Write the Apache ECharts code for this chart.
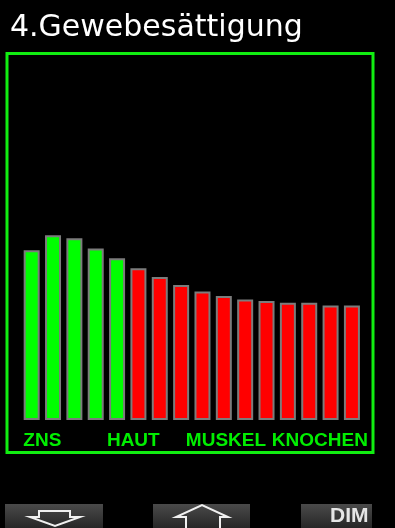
<!DOCTYPE html>
<html>
<head>
<meta charset="utf-8">
<script src="https://cdn.jsdelivr.net/npm/echarts@6/dist/echarts.min.js"></script>
<style>
html,body{margin:0;padding:0;background:#000;}
#chart{width:395px;height:528px;}
</style>
</head>
<body>
<div id="chart"></div>
<script>
// ---- data ----
const titleText = '4.Gewebesättigung';
const compartments = ['1','2','3','4','5','6','7','8','9','10','11','12','13','14','15','16'];
const saturation = [56.6, 61.6, 60.6, 57.2, 53.9, 50.6, 47.7, 45.0, 42.8, 41.3, 40.2, 39.7, 39.1, 39.1, 38.2, 38.2];
const compartmentState = ['on','on','on','on','on','off','off','off','off','off','off','off','off','off','off','off'];
const tissueGroups = ['ZNS', 'HAUT', 'MUSKEL', 'KNOCHEN'];
const tissueGroupPos = [1, 5.26, 9.6, 14];
const buttonLabels = ['', '', 'DIM'];

// ---- styles ----
const stateColors = { on: '#00ff00', off: '#ff0000' };
const chart = echarts.init(document.getElementById('chart'), null, { renderer: 'canvas' });

const btnFill = new echarts.graphic.LinearGradient(0, 0, 0, 1, [
  { offset: 0, color: '#4a4a4a' }, { offset: 1, color: '#262626' }
]);

const option = {
  backgroundColor: '#000000',
  animation: false,
  title: {
    text: titleText,
    left: 10,
    top: 13,
    padding: 0,
    textStyle: { color: '#ffffff', fontFamily: 'DejaVu Sans', fontWeight: 'normal', fontSize: 30 }
  },
  grid: { left: 21, right: 32.4, top: 120, bottom: 108, containLabel: false },
  xAxis: [
    {
      type: 'category', data: compartments,
      axisLine: { show: false }, axisTick: { show: false }, axisLabel: { show: false }, splitLine: { show: false }
    },
    {
      type: 'value', min: 0, max: compartments.length, position: 'bottom',
      axisLine: { show: false }, axisTick: { show: false }, splitLine: { show: false },
      axisLabel: {
        customValues: tissueGroupPos,
        margin: 11,
        color: '#00ee00',
        fontFamily: 'Liberation Sans',
        fontWeight: 'bold',
        fontSize: 19,
        formatter: function (v) {
          let best = 0;
          tissueGroupPos.forEach(function (p, i) { if (Math.abs(p - v) < Math.abs(tissueGroupPos[best] - v)) best = i; });
          return tissueGroups[best];
        }
      }
    }
  ],
  yAxis: { type: 'value', min: 0, max: 100, show: false },
  series: [{
    type: 'bar',
    xAxisIndex: 0,
    data: saturation,
    barWidth: 16,
    itemStyle: {
      color: function (p) { return stateColors[compartmentState[p.dataIndex]]; },
      borderColor: '#7c7c7c',
      borderWidth: 2
    }
  }],
  graphic: [
    { type: 'rect', shape: { x: 7, y: 53.5, width: 366, height: 399 }, style: { fill: 'none', stroke: '#11ee11', lineWidth: 3 }, silent: true },
    { type: 'rect', shape: { x: 5, y: 504, width: 98, height: 24 }, style: { fill: btnFill }, silent: true },
    { type: 'rect', shape: { x: 153, y: 504, width: 97, height: 24 }, style: { fill: btnFill }, silent: true },
    { type: 'rect', shape: { x: 301, y: 504, width: 71, height: 24 }, style: { fill: btnFill }, silent: true },
    { type: 'polygon', shape: { points: [[39,511],[70,511],[70,517],[80,517],[55,526],[30,517],[39,517]] }, style: { fill: 'none', stroke: '#f0f0f0', lineWidth: 2 }, silent: true },
    { type: 'polyline', shape: { points: [[186,528],[186,517],[176,517],[202,505],[228,517],[220,517],[220,528]] }, style: { fill: 'none', stroke: '#f0f0f0', lineWidth: 2 }, silent: true },
    { type: 'text', left: 330, top: 506, style: { text: buttonLabels[2], fill: '#e6e6e6', font: 'bold 21px "Liberation Sans"' }, silent: true }
  ]
};
chart.setOption(option);
</script>
</body>
</html>
